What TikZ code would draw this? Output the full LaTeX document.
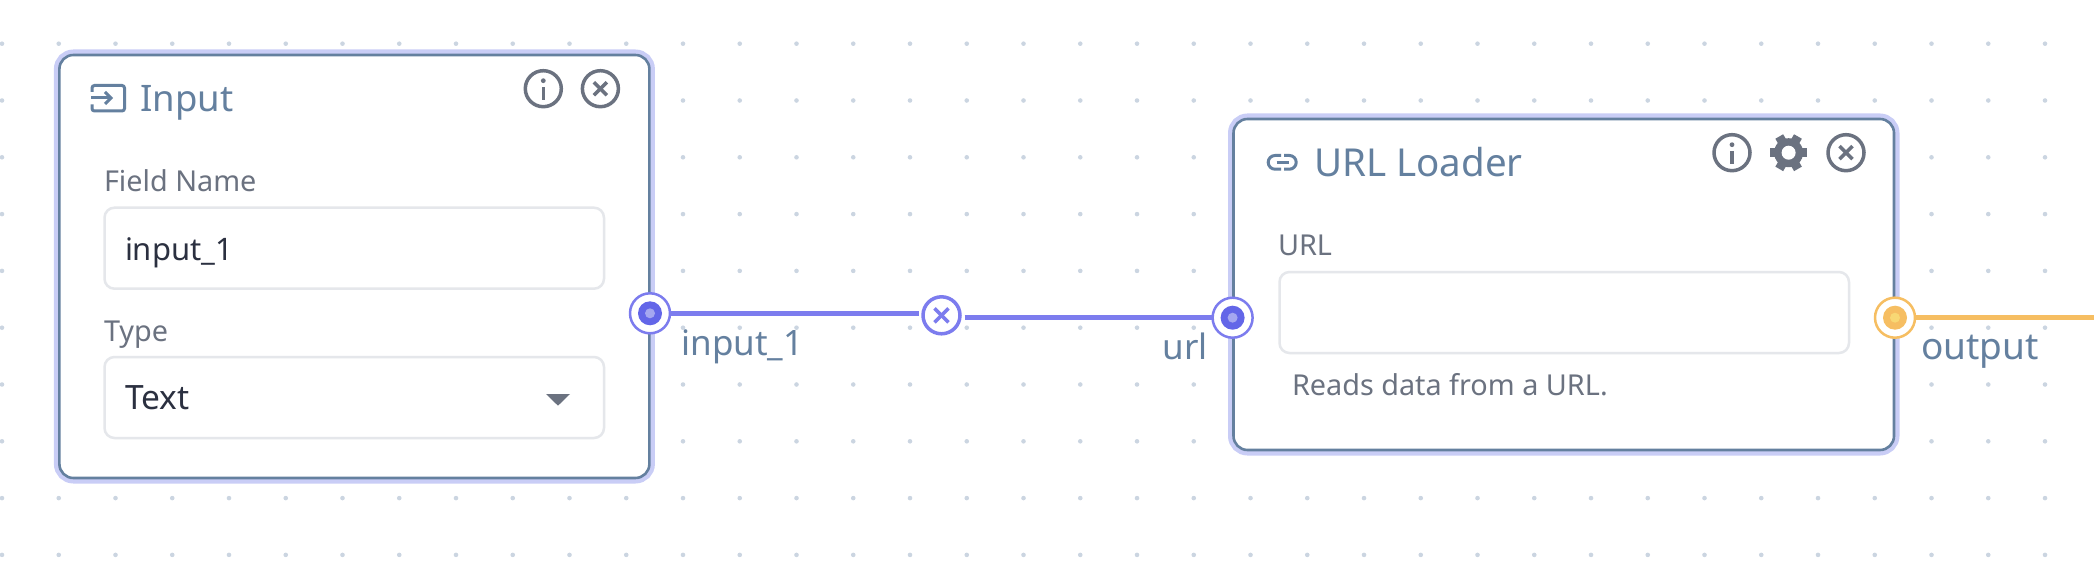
\documentclass[tikz,border=0pt]{standalone}
\usepackage{fontspec}
\setmainfont{Noto Sans}
\definecolor{griddot}{HTML}{CBD5E1}
\definecolor{halo}{HTML}{C9CDF6}
\definecolor{slate}{HTML}{64809F}
\definecolor{fieldline}{HTML}{E5E7EB}
\definecolor{icongray}{HTML}{6B7280}
\definecolor{ink}{HTML}{2B3040}
\definecolor{indigo}{HTML}{7C7CEE}
\definecolor{indigodeep}{HTML}{6366E8}
\definecolor{indigolight}{HTML}{A5A7F0}
\definecolor{amber}{HTML}{F6BE62}
\definecolor{amberlight}{HTML}{F8D874}

\tikzstyle{every node}=[inner sep=0pt, outer sep=0pt, text=ink]
\tikzstyle{card}=[draw=slate, line width=2.6pt, fill=white, rounded corners=14pt, anchor=north west, preaction={draw=halo, line width=11pt}]
\tikzstyle{field}=[draw=fieldline, line width=2.5pt, fill=white, rounded corners=10pt, anchor=north west]
\tikzstyle{title}=[anchor=base west, text=slate, font={\fontsize{36.5}{36.5}\selectfont}]
\tikzstyle{caption}=[anchor=base west, text=icongray, font={\fontsize{28.8}{28.8}\selectfont}]
\tikzstyle{value}=[anchor=base west, font={\fontsize{31}{31}\selectfont}]
\tikzstyle{portlabel}=[text=slate, font={\fontsize{35}{35}\selectfont}]
\tikzstyle{port}=[circle, minimum size=40pt, line width=2.5pt, fill=white]
\tikzstyle{iconring}=[circle, draw=icongray, line width=3.5pt, minimum size=36pt]
\tikzstyle{edge}=[line width=5pt]

\begin{document}
\begin{tikzpicture}[x=1pt, y=-1pt]
    \useasboundingbox (0,0) rectangle (2094,564);
    % dotted canvas
    \foreach \i in {0,...,36} {
        \foreach \j in {0,...,9} {
            \fill [griddot] (2+56.75*\i, 43.7+56.8*\j) circle (2.3pt);
        }
    }

    % input card
    \node [card, minimum width=590pt, minimum height=423pt] (inputcard) at (59.4,55) {};
    \node [title] (inputtitle) at (140.6,111.7) {Input};
    \node [caption] (namelabel) at (104,191.7) {Field Name};
    \node [field, minimum width=499.5pt, minimum height=81pt] (namefield) at (104.5,207.7) {};
    \node [value] (namevalue) at (125,261) {input\_1};
    \node [caption] (typelabel) at (104,341.7) {Type};
    \node [field, minimum width=499.5pt, minimum height=81pt] (typefield) at (104.5,357) {};
    \node [value, font={\fontsize{33.5}{33.5}\selectfont}] (typevalue) at (125,409) {Text};
    \fill [icongray] (546,394) -- (570,394) -- (558,405.7) -- cycle;

    % url card
    \node [card, minimum width=660.5pt, minimum height=331pt] (urlcard) at (1233.5,119) {};
    \node [title, font={\fontsize{38.5}{38.5}\selectfont}] (urltitle) at (1314,176.2) {URL Loader};
    \node [caption] (urllabel) at (1278,255.5) {URL};
    \node [field, minimum width=569.5pt, minimum height=81pt] (urlfield) at (1279.5,272) {};
    \node [caption] (urlhint) at (1292,395.5) {Reads data from a URL.};

    % card icons
    \draw [slate, line width=3pt, rounded corners=2.5pt] (92,92) -- (92,85.5) -- (124.5,85.5) -- (124.5,111) -- (92,111) -- (92,104.5);
    \draw [slate, line width=3pt] (91,98) -- (111,98);
    \draw [slate, line width=3pt] (105,92) -- (111,98) -- (105,104);
    \draw [slate, line width=3pt, rounded corners=6.8pt] (1281,155.5) -- (1268.2,155.5) -- (1268.2,169.2) -- (1281,169.2);
    \draw [slate, line width=3pt, rounded corners=6.8pt] (1284,155.5) -- (1296.2,155.5) -- (1296.2,169.2) -- (1284,169.2);
    \draw [slate, line width=3pt] (1276.5,162.4) -- (1289,162.4);
    \foreach \name/\cx/\cy in {inputinfo/543.3/88.7, urlinfo/1732/152.7} {
        \node [iconring] (\name) at (\cx,\cy) {};
        \fill [icongray] (\cx-1.7,\cy-2) rectangle (\cx+1.7,\cy+11);
        \fill [icongray] (\cx,\cy-8) circle (2.4pt);
    }
    \foreach \name/\cx/\cy in {inputclose/600.4/88.7, urlclose/1846/152.7} {
        \node [iconring] (\name) at (\cx,\cy) {};
        \draw [icongray, line width=3.5pt] (\cx-6.5,\cy-6.5) -- (\cx+6.5,\cy+6.5);
        \draw [icongray, line width=3.5pt] (\cx-6.5,\cy+6.5) -- (\cx+6.5,\cy-6.5);
    }
    \node [circle, fill=icongray, minimum size=29pt] (urlgear) at (1788.6,152.7) {};
    \foreach \a in {30,90,...,330} {
        \fill [icongray, rotate around={\a:(urlgear.center)}] (1788.6-4.5,134) rectangle (1788.6+4.5,145);
    }
    \node [circle, fill=white, minimum size=14pt] (urlgearhole) at (urlgear.center) {};

    % ports
    \node [port, draw=indigo] (inputport) at (650,313.3) {};
    \node [port, draw=indigo] (urlport) at (1232.6,317.7) {};
    \node [port, draw=amber] (outputport) at (1895,317.7) {};
    \foreach \p/\outer/\inner in {inputport/indigodeep/indigolight, urlport/indigodeep/indigolight, outputport/amber/amberlight} {
        \fill [\outer] (\p.center) circle (12pt);
        \fill [\inner] (\p.center) circle (5pt);
    }
    \node [portlabel, anchor=base west] (inputportlabel) at (681.5,355.5) {input\_1};
    \node [portlabel, anchor=base east] (urlportlabel) at (1207.5,359) {url};
    \node [portlabel, anchor=base west, font={\fontsize{37}{37}\selectfont}] (outputportlabel) at (1921,359) {output};

    % edges
    \node [circle, draw=indigo, line width=3.5pt, fill=white, minimum size=37pt, outer sep=4.5pt] (removebtn) at (941.5,315.3) {};
    \draw [indigo, line width=3.5pt] (934.5,308.3) -- (948.5,322.3);
    \draw [indigo, line width=3.5pt] (934.5,322.3) -- (948.5,308.3);
    \draw [edge, indigo] (inputport.east) -- (inputport.east -| removebtn.west);
    \draw [edge, indigo] (urlport.west -| removebtn.east) -- (urlport.west);
    \coordinate (outputend) at (2094,317.7);
    \draw [edge, amber] (outputport.east) -- (outputend);
\end{tikzpicture}
\end{document}
